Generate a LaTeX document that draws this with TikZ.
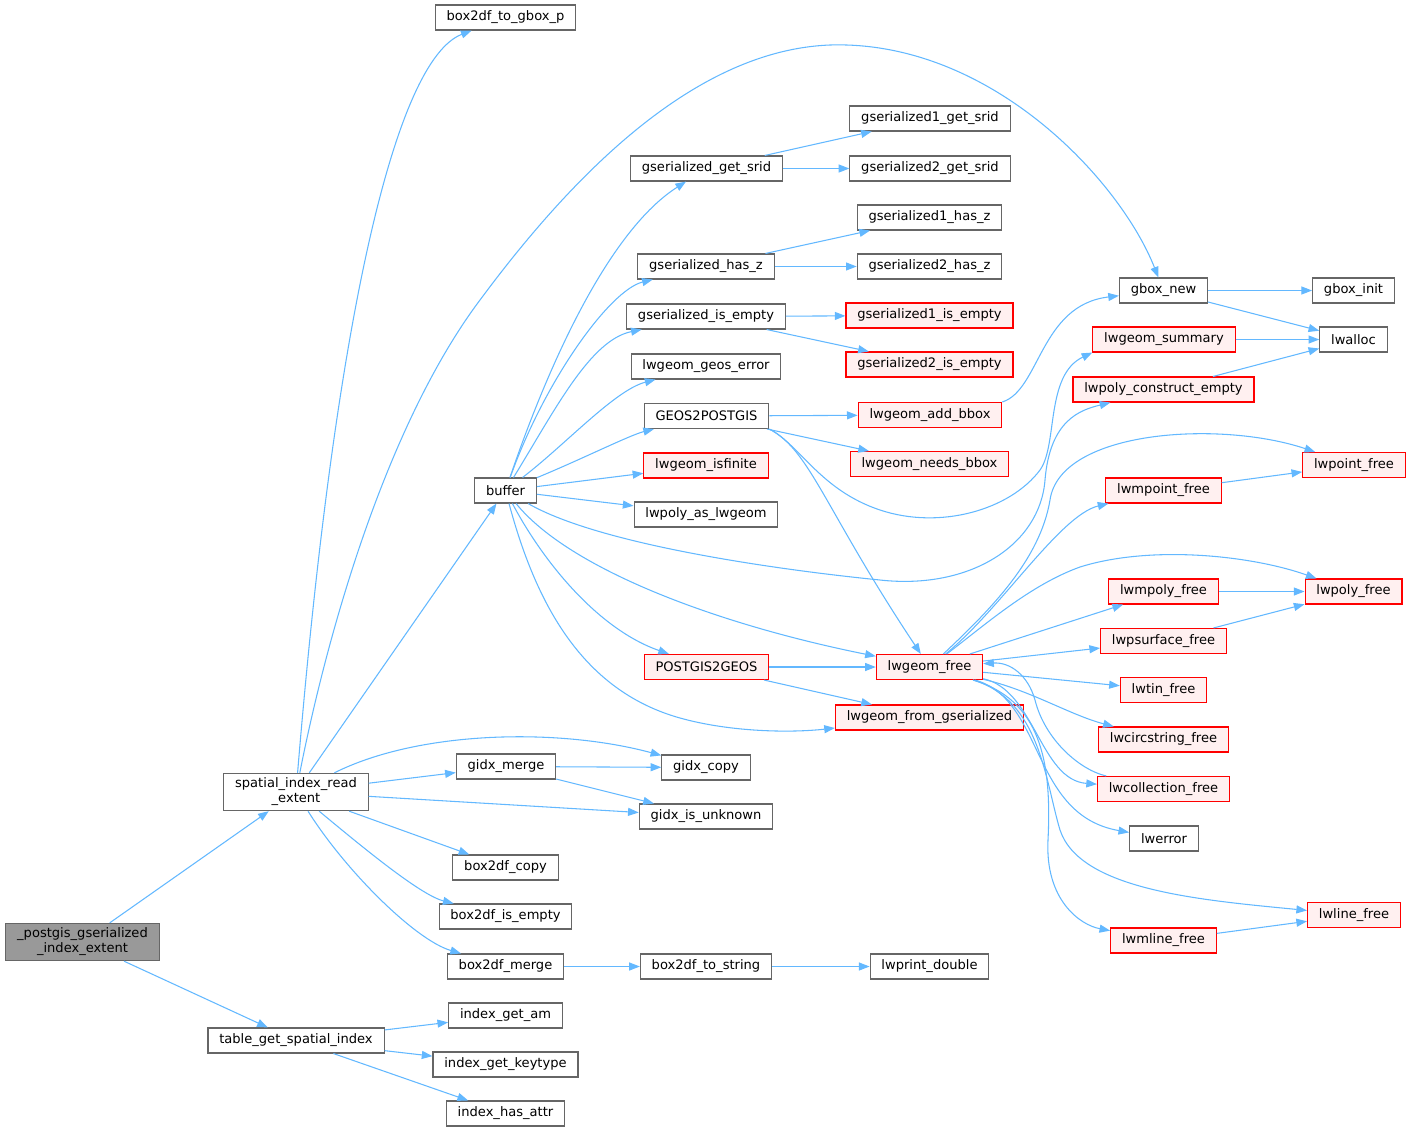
\documentclass[tikz,border=0pt]{standalone}
\usepackage{fontspec}
\setmainfont{DejaVu Sans}
\usetikzlibrary{arrows.meta, positioning}
\usepackage{xcolor}
\definecolor{edgeblue}{HTML}{63B8FF}
\definecolor{boxgray}{HTML}{666666}
\definecolor{rootfill}{HTML}{999999}
\definecolor{redfill}{HTML}{FFF0F0}

\begin{document}
\begin{tikzpicture}[
  x=0.75pt, y=-0.75pt,
  box/.style={rectangle, draw=boxgray, line width=0.8pt, minimum height=18.75pt,
              inner xsep=8.5pt, inner ysep=3.5pt, align=center,
              font=\fontsize{9.8}{11.2}\selectfont},
  redbox/.style={box, draw=red, fill=redfill},
  rootbox/.style={box, fill=rootfill},
  arrow/.style={-{Triangle[length=8pt, width=6pt]}, color=edgeblue, line width=0.8pt},
]
  \useasboundingbox (0,0) rectangle (1411,1133);

  \node[rootbox] (root)      at (82.5, 942)    {\_postgis\_gserialized\\\_index\_extent};
  \node[box] (sire)          at (296, 792)     {spatial\_index\_read\\\_extent};
  \node[box] (tgsi)          at (296, 1040.5)  {table\_get\_spatial\_index};

  \node[box] (bgboxp)        at (505.5, 17.5)  {box2df\_to\_gbox\_p};
  \node[box] (buffer)        at (505.5, 490.5) {buffer};
  \node[box] (gidxmerge)     at (506, 766.5)   {gidx\_merge};
  \node[box] (bcopy)         at (505.5, 867.5) {box2df\_copy};
  \node[box] (bisempty)      at (505.5, 916.5) {box2df\_is\_empty};
  \node[box] (bmerge)        at (505.5, 966.5) {box2df\_merge};
  \node[box] (igam)          at (505.5, 1015.5) {index\_get\_am};
  \node[box] (igkey)         at (505.5, 1064.5) {index\_get\_keytype};
  \node[box] (ihattr)        at (505.5, 1113.5) {index\_has\_attr};

  \node[box] (gsrid)         at (706.5, 168.5) {gserialized\_get\_srid};
  \node[box] (ghasz)         at (706, 266.5)   {gserialized\_has\_z};
  \node[box] (gisempty)      at (706, 316.5)   {gserialized\_is\_empty};
  \node[box] (geoserr)       at (706, 366.5)   {lwgeom\_geos\_error};
  \node[box] (geos2pg)       at (706.5, 416)   {GEOS2POSTGIS};
  \node[redbox] (isfinite)   at (706, 465.5)   {lwgeom\_isfinite};
  \node[box] (polyaslw)      at (706, 514.5)   {lwpoly\_as\_lwgeom};
  \node[redbox] (pg2geos)    at (706.5, 667)   {POSTGIS2GEOS};
  \node[box] (gidxcopy)      at (706, 767.5)   {gidx\_copy};
  \node[box] (gidxunk)       at (706, 816.5)   {gidx\_is\_unknown};
  \node[box] (btostring)     at (706, 966.5)   {box2df\_to\_string};

  \node[box] (g1srid)        at (930, 118.5)   {gserialized1\_get\_srid};
  \node[box] (g2srid)        at (930, 168.5)   {gserialized2\_get\_srid};
  \node[box] (g1hasz)        at (929.5, 217.5) {gserialized1\_has\_z};
  \node[box] (g2hasz)        at (929.5, 266.5) {gserialized2\_has\_z};
  \node[redbox] (g1empty)    at (929.5, 315.5) {gserialized1\_is\_empty};
  \node[redbox] (g2empty)    at (929.5, 364.5) {gserialized2\_is\_empty};
  \node[redbox] (addbbox)    at (930, 415)     {lwgeom\_add\_bbox};
  \node[redbox] (needsbbox)  at (929.5, 464)   {lwgeom\_needs\_bbox};
  \node[redbox] (lwfree)     at (929.5, 667)   {lwgeom\_free};
  \node[redbox] (fromgser)   at (929.5, 717.5) {lwgeom\_from\_gserialized};
  \node[box] (printdbl)      at (929.5, 966.5) {lwprint\_double};

  \node[box] (gboxnew)       at (1163.5, 290.5) {gbox\_new};
  \node[redbox] (summary)    at (1164, 339.5)   {lwgeom\_summary};
  \node[redbox] (polyempty)  at (1163.5, 389.5) {lwpoly\_construct\_empty};
  \node[redbox] (mpointfree) at (1163.5, 490.5) {lwmpoint\_free};
  \node[redbox] (mpolyfree)  at (1163.5, 591.5) {lwmpoly\_free};
  \node[redbox] (psurffree)  at (1163.5, 641)   {lwpsurface\_free};
  \node[redbox] (tinfree)    at (1163.5, 690)   {lwtin\_free};
  \node[redbox] (circfree)   at (1163.5, 739.5) {lwcircstring\_free};
  \node[redbox] (collfree)   at (1163.5, 789)   {lwcollection\_free};
  \node[box] (lwerror)       at (1164, 838.5)   {lwerror};
  \node[redbox] (mlinefree)  at (1163.5, 940.5) {lwmline\_free};

  \node[box] (gboxinit)      at (1353.5, 290.5) {gbox\_init};
  \node[box] (lwalloc)       at (1353.5, 339.5) {lwalloc};
  \node[redbox] (pointfree)  at (1354, 465)     {lwpoint\_free};
  \node[redbox] (polyfree)   at (1353.5, 591.5) {lwpoly\_free};
  \node[redbox] (linefree)   at (1354, 915)     {lwline\_free};

  \draw[arrow] (root) -- (sire);
  \draw[arrow] (root) -- (tgsi);

  \draw[arrow] (sire) .. controls (335,320) and (395,60) .. (bgboxp);
  \draw[arrow] (sire) .. controls (330,620) and (390,420) .. (480,300)
               .. controls (580,165) and (700,50) .. (830,45)
               .. controls (990,40) and (1120,180) .. (gboxnew);
  \draw[arrow] (sire) -- (buffer);
  \draw[arrow] (sire) -- (gidxmerge);
  \draw[arrow] (sire) .. controls (420,730) and (560,728) .. (gidxcopy);
  \draw[arrow] (sire) -- (gidxunk);
  \draw[arrow] (sire) -- (bcopy);
  \draw[arrow] (sire) .. controls (360,845) and (420,895) .. (bisempty);
  \draw[arrow] (sire) .. controls (345,870) and (415,940) .. (bmerge);

  \draw[arrow] (tgsi) -- (igam);
  \draw[arrow] (tgsi) -- (igkey);
  \draw[arrow] (tgsi) -- (ihattr);

  \draw[arrow] (gidxmerge) -- (gidxcopy);
  \draw[arrow] (gidxmerge) -- (gidxunk);
  \draw[arrow] (bmerge) -- (btostring);
  \draw[arrow] (btostring) -- (printdbl);

  \draw[arrow] (buffer) .. controls (550,360) and (610,230) .. (gsrid);
  \draw[arrow] (buffer) .. controls (545,380) and (610,290) .. (ghasz);
  \draw[arrow] (buffer) .. controls (555,410) and (590,340) .. (gisempty);
  \draw[arrow] (buffer) .. controls (565,445) and (615,390) .. (geoserr);
  \draw[arrow] (buffer) .. controls (580,460) and (630,435) .. (geos2pg);
  \draw[arrow] (buffer) -- (isfinite);
  \draw[arrow] (buffer) -- (polyaslw);
  \draw[arrow] (buffer) .. controls (600,545) and (780,570) .. (880,580)
               .. controls (970,590) and (1040,545) .. (1045,480)
               .. controls (1050,420) and (1080,410) .. (polyempty);
  \draw[arrow] (buffer) .. controls (570,570) and (720,625) .. (lwfree);
  \draw[arrow] (buffer) .. controls (545,565) and (600,630) .. (pg2geos);
  \draw[arrow] (buffer) .. controls (535,600) and (580,690) .. (680,718)
               .. controls (730,732) and (790,733) .. (fromgser);

  \draw[arrow] (gsrid) -- (g1srid);
  \draw[arrow] (gsrid) -- (g2srid);
  \draw[arrow] (ghasz) -- (g1hasz);
  \draw[arrow] (ghasz) -- (g2hasz);
  \draw[arrow] (gisempty) -- (g1empty);
  \draw[arrow] (gisempty) -- (g2empty);

  \draw[arrow] (geos2pg) -- (addbbox);
  \draw[arrow] (geos2pg) -- (needsbbox);
  \draw[arrow] (geos2pg.south east) .. controls (800,445) and (820,490) .. (880,510)
               .. controls (940,530) and (1010,510) .. (1040,470)
               .. controls (1058,445) and (1045,375) .. (summary.south west);
  \draw[arrow] (geos2pg.south east) .. controls (810,450) and (825,510) .. (lwfree);
  \draw[arrow] (pg2geos) -- (lwfree);
  \draw[arrow] (pg2geos) -- (fromgser);

  \draw[arrow] (addbbox.north east) .. controls (1040,390) and (1040,305) .. (gboxnew);
  \draw[arrow] (gboxnew) -- (gboxinit);
  \draw[arrow] (gboxnew) -- (lwalloc);
  \draw[arrow] (summary) -- (lwalloc);
  \draw[arrow] (polyempty) -- (lwalloc);

  \draw[arrow] (lwfree) .. controls (990,610) and (1040,560) .. (1050,500)
               .. controls (1060,430) and (1220,420) .. (pointfree);
  \draw[arrow] (lwfree) .. controls (1000,610) and (1060,515) .. (mpointfree);
  \draw[arrow] (lwfree) .. controls (985,625) and (1030,585) .. (1080,567)
               .. controls (1150,545) and (1250,555) .. (polyfree);
  \draw[arrow] (lwfree) -- (mpolyfree);
  \draw[arrow] (lwfree) -- (psurffree);
  \draw[arrow] (lwfree) -- (tinfree);
  \draw[arrow] (lwfree) .. controls (1030,690) and (1070,715) .. (circfree);
  \draw[arrow] (lwfree) .. controls (1035,690) and (1040,780) .. (collfree);
  \draw[arrow] (lwfree) .. controls (1045,700) and (1030,815) .. (lwerror);
  \draw[arrow] (lwfree) .. controls (1040,700) and (1045,780) .. (1060,830)
               .. controls (1080,890) and (1200,900) .. (linefree);
  \draw[arrow] (lwfree) .. controls (1040,700) and (1052,760) .. (1048,840)
               .. controls (1045,900) and (1080,925) .. (mlinefree);
  \draw[arrow] (collfree) .. controls (1080,770) and (1045,740) .. (1035,700)
               .. controls (1028,675) and (1010,662) .. (lwfree);

  \draw[arrow] (mpointfree) -- (pointfree);
  \draw[arrow] (mpolyfree) -- (polyfree);
  \draw[arrow] (psurffree) -- (polyfree);
  \draw[arrow] (mlinefree) -- (linefree);
\end{tikzpicture}
\end{document}
